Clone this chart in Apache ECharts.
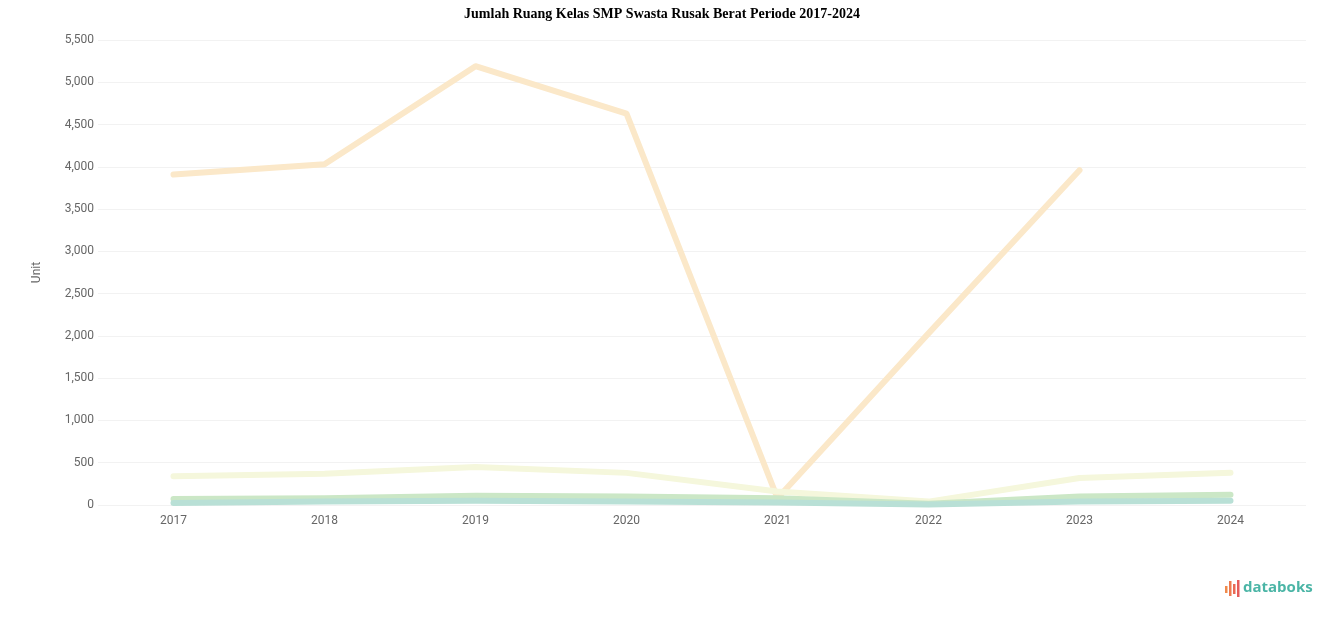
<!DOCTYPE html>
<html>
<head>
<meta charset="utf-8">
<script src="https://cdn.jsdelivr.net/npm/echarts@6/dist/echarts.min.js"></script>
<style>
html,body{margin:0;padding:0;background:#fff;}
#chart{width:1324px;height:617px;}
</style>
</head>
<body>
<div id="chart"></div>
<script>
const years = ['2017','2018','2019','2020','2021','2022','2023','2024'];
const seriesA = [3910, 4030, 5190, 4630, 80, 2030, 3960, null];
const seriesB = [340, 370, 450, 380, 160, 40, 320, 380];
const seriesC = [70, 80, 110, 100, 80, 15, 100, 120];
const seriesD = [25, 40, 50, 40, 30, 5, 40, 50];
const yTicks = {min: 0, max: 5500, interval: 500};

const chart = echarts.init(document.getElementById('chart'));
const mk = (name, data, color) => ({
  name, type: 'line', data, symbol: 'none', smooth: false,
  lineStyle: {width: 6, color, cap: 'round', join: 'round'},
  itemStyle: {color}
});
chart.setOption({
  animation: false,
  title: {
    text: 'Jumlah Ruang Kelas SMP Swasta Rusak Berat Periode 2017-2024',
    left: 'center', top: 2,
    textStyle: {fontFamily: 'Liberation Serif, Times New Roman, serif', fontWeight: 'bold', fontSize: 14, color: '#000'}
  },
  grid: {left: 98, right: 18, top: 40, bottom: 112, containLabel: false},
  xAxis: {
    type: 'category', data: years, boundaryGap: true,
    axisLine: {show: false}, axisTick: {show: false},
    axisLabel: {color: '#666', fontSize: 12, margin: 10, fontFamily: 'Roboto, sans-serif'},
    splitLine: {show: false}
  },
  yAxis: {
    type: 'value', min: yTicks.min, max: yTicks.max, interval: yTicks.interval,
    name: 'Unit', nameLocation: 'middle', nameGap: 55, nameRotate: 90,
    nameTextStyle: {color: '#666', fontSize: 12, fontFamily: 'Roboto, sans-serif'},
    axisLine: {show: false}, axisTick: {show: false},
    axisLabel: {color: '#666', fontSize: 12, margin: 4, fontFamily: 'Roboto, sans-serif',
      formatter: v => v.toLocaleString('en-US')},
    splitLine: {lineStyle: {color: '#f2f2f2', width: 1}}
  },
  series: [
    mk('A', seriesA, '#fbe8c9'),
    mk('B', seriesB, '#f5f7dc'),
    mk('C', seriesC, '#cbe7c6'),
    mk('D', seriesD, '#b9e0d6')
  ],
  graphic: [
    {type: 'rect', shape: {x: 1225, y: 586, width: 2.5, height: 7}, style: {fill: '#f08a4b'}},
    {type: 'rect', shape: {x: 1229, y: 581, width: 2.5, height: 15}, style: {fill: '#ee7a4f'}},
    {type: 'rect', shape: {x: 1233, y: 584, width: 2.5, height: 10}, style: {fill: '#e96a55'}},
    {type: 'rect', shape: {x: 1237, y: 580, width: 2.5, height: 17}, style: {fill: '#e65c5a'}},
    {type: 'text', left: 1243, top: 580,
      style: {text: 'databoks', fill: '#4bb5a6', font: 'bold 15px "Open Sans", sans-serif'}}
  ]
});
</script>
</body>
</html>
